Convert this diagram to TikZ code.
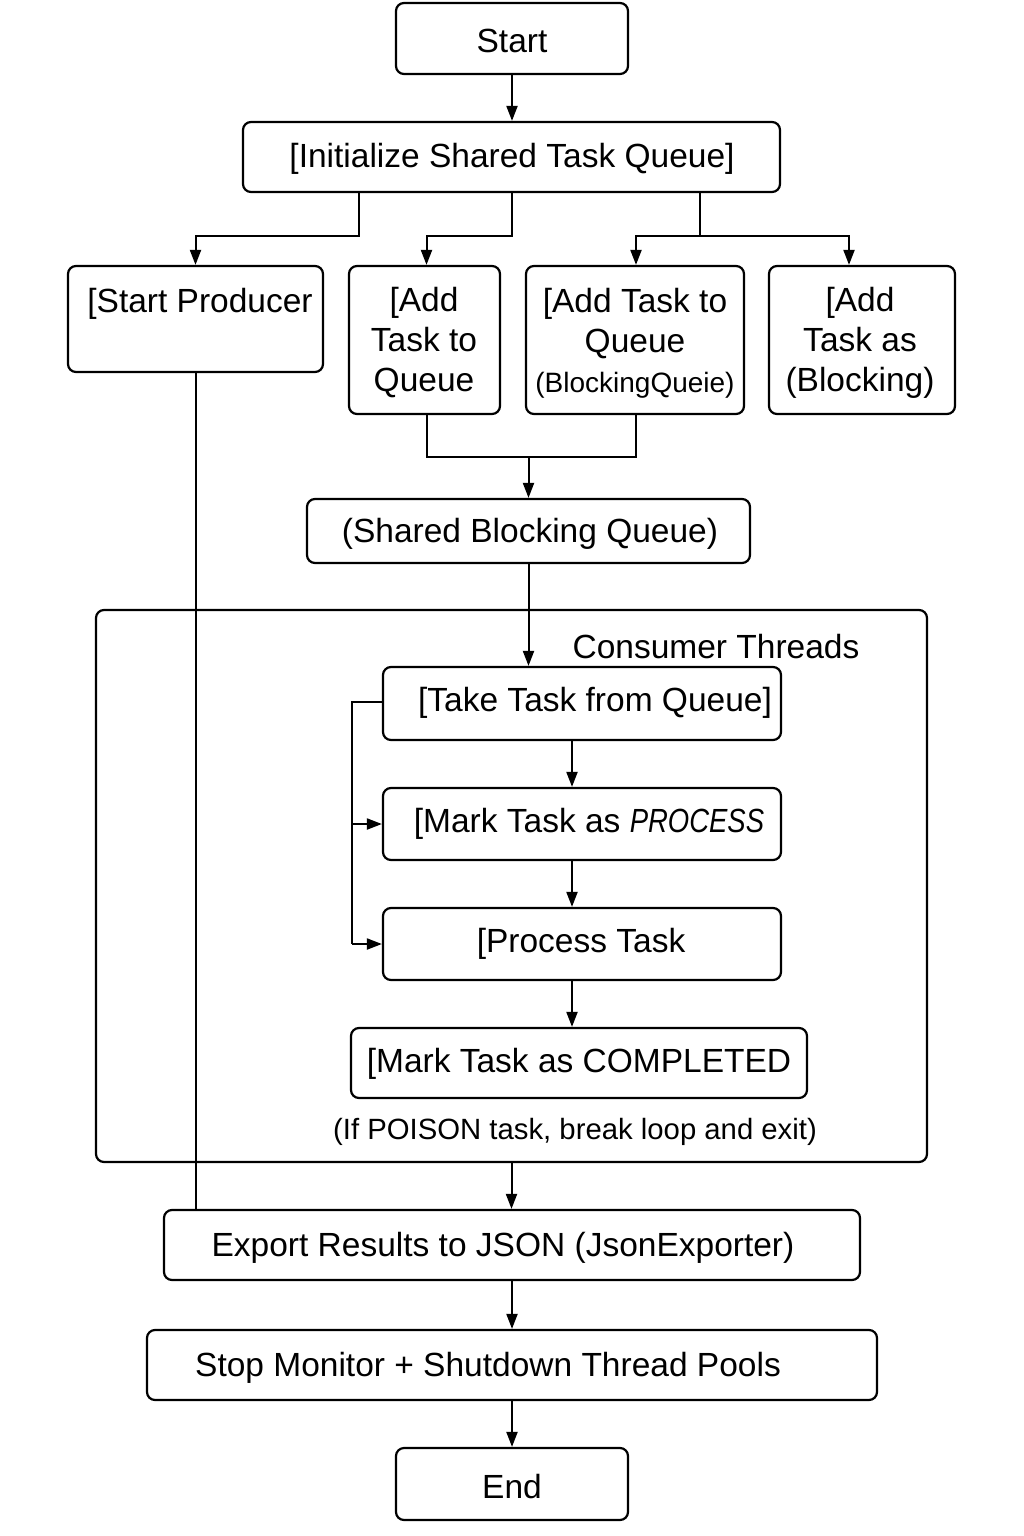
\documentclass[tikz,border=0pt]{standalone}
\usepackage{fontspec}
\usepackage{graphicx}
\setmainfont{Liberation Sans}
\usetikzlibrary{arrows.meta}
\begin{document}
\begin{tikzpicture}[x=1pt,y=-1pt,
  box/.style={draw, line width=2.2pt, rounded corners=8pt, inner sep=0pt},
  txt/.style={inner sep=0pt, align=center, font=\fontsize{33.5}{40}\selectfont},
  small/.style={inner sep=0pt, align=center, font=\fontsize{29.3}{36}\selectfont},
  arr/.style={line width=2pt, -{Triangle[length=15pt,width=11pt]}},
  ln/.style={line width=2pt}]
\useasboundingbox (0,0) rectangle (1024,1536);
\fill[white] (0,0) rectangle (1024,1536);

% boxes
\node[box, minimum width=232pt, minimum height=71pt] (start) at (512,38.5) {};
\node[box, minimum width=537pt, minimum height=70pt] (init) at (511.5,157) {};
\node[box, minimum width=255pt, minimum height=106pt] (prod) at (195.5,319) {};
\node[box, minimum width=151pt, minimum height=148pt] (add1) at (424.5,340) {};
\node[box, minimum width=218pt, minimum height=148pt] (add2) at (635,340) {};
\node[box, minimum width=186pt, minimum height=148pt] (add3) at (862,340) {};
\node[box, minimum width=443pt, minimum height=64pt] (shared) at (528.5,531) {};
\node[box, minimum width=831pt, minimum height=552pt] (frame) at (511.5,886) {};
\node[box, minimum width=398pt, minimum height=73pt] (take) at (582,703.5) {};
\node[box, minimum width=398pt, minimum height=72pt] (mark) at (582,824) {};
\node[box, minimum width=398pt, minimum height=72pt] (proc) at (582,944) {};
\node[box, minimum width=456pt, minimum height=70pt] (comp) at (579,1063) {};
\node[box, minimum width=696pt, minimum height=70pt] (export) at (512,1245) {};
\node[box, minimum width=730pt, minimum height=70pt] (stop) at (512,1365) {};
\node[box, minimum width=232pt, minimum height=72pt] (end) at (512,1484) {};

% texts
\node[txt] (startT) at (512,41) {Start};
\node[txt] (initT) at (512,159) {[Initialize Shared Task Queue]};
\node[txt] (prodT) at (200,304) {[Start Producer};
\node[txt] (add1T) at (424,343) {[Add\\Task to\\Queue};
\node[txt] (add2T) at (635,343) {[Add Task to\\Queue\\{\fontsize{28}{40}\selectfont(BlockingQueie)}};
\node[txt] (add3T) at (860,343) {[Add\\Task as\\(Blocking)};
\node[txt] (sharedT) at (530,534) {(Shared Blocking Queue)};
\node[txt] (consT) at (716,647) {Consumer Threads};
\node[txt] (takeT) at (595,703) {[Take Task from Queue]};
\node[txt] (markT) at (589,824) {[Mark Task as \scalebox{0.82}[1]{\textit{PROCESS}}};
\node[txt] (procT) at (581,944) {[Process Task};
\node[txt] (compT) at (579,1064) {[Mark Task as COMPLETED};
\node[small] (poisonT) at (575,1132) {(If POISON task, break loop and exit)};
\node[txt] (exportT) at (503,1248) {Export Results to JSON (JsonExporter)};
\node[txt] (stopT) at (488,1368) {Stop Monitor + Shutdown Thread Pools};
\node[txt] (endT) at (512,1487) {End};

% connectors
\draw[arr] (start.south) -- (start.south |- init.north);
\draw[arr] ([xshift=-152.5pt]init.south) -- ++(0,43) -| (prod.north);
\draw[arr] ([xshift=0.5pt]init.south) -- ++(0,43) -| ([xshift=2pt]add1.north);
\draw[ln] ([xshift=188.5pt]init.south) -- ++(0,43) coordinate (j3);
\draw[arr] (j3) -| ([xshift=1pt]add2.north);
\draw[arr] (j3) -| ([xshift=-13pt]add3.north);

\draw[ln] ([xshift=2pt]add1.south) -- ++(0,42) -| ([xshift=1pt]add2.south);
\draw[arr] (shared.north |- add1.south) ++(0,42) -- (shared.north);
\draw[arr] (shared.south) -- (shared.south |- take.north);

\draw[arr] ([xshift=-10pt]take.south) -- ([xshift=-10pt]mark.north);
\draw[arr] ([xshift=-10pt]mark.south) -- ([xshift=-10pt]proc.north);
\draw[arr] ([xshift=-10pt]proc.south) -- ([xshift=-7pt]comp.north);

\draw[ln] ([yshift=1.5pt]take.west) -- ++(-30,0) coordinate (lp) -- (lp |- proc.west);
\draw[arr] (lp |- mark.west) -- (mark.west);
\draw[arr] (lp |- proc.west) -- (proc.west);

\draw[ln] (prod.south) -- (prod.south |- export.north);
\draw[arr] (frame.south) -- (frame.south |- export.north);
\draw[arr] (export.south) -- (export.south |- stop.north);
\draw[arr] (stop.south) -- (stop.south |- end.north);
\end{tikzpicture}
\end{document}
